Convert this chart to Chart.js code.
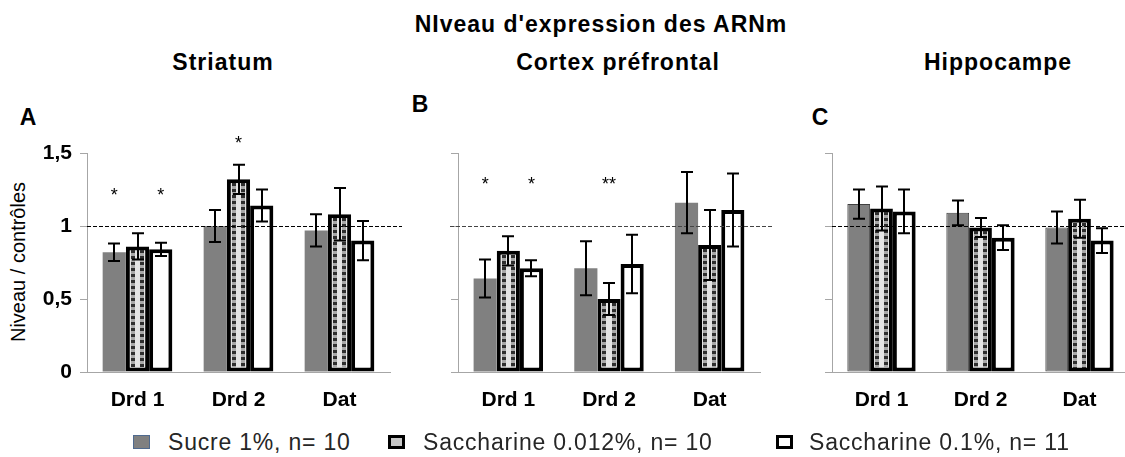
<!DOCTYPE html>
<html>
<head>
<meta charset="utf-8">
<script src="https://cdn.jsdelivr.net/npm/chart.js@4"></script>
<style>
  html, body { margin: 0; padding: 0; background: #fff; }
  body { position: relative; width: 1125px; height: 457px; overflow: hidden; font-family: "Liberation Sans", Arial, sans-serif; color: #000; }
  canvas { position: absolute; }
  .txt { position: absolute; white-space: nowrap; line-height: 1; }
  .bold { font-weight: bold; font-size: 23px; letter-spacing: 1px; }
  .center { transform: translate(-50%, -50%); }
  .legend { position: absolute; top: 442px; transform: translateY(-50%); font-size: 23px; letter-spacing: 0.8px; line-height: 1; color: #262626; white-space: nowrap; }
  .sw { position: absolute; box-sizing: border-box; width: 17px; height: 14px; top: 435px; }
</style>
</head>
<body>
<div class="txt bold center" style="left:601px; top:24px;">NIveau d'expression des ARNm</div>
<div class="txt bold center" style="left:223px; top:62px;">Striatum</div>
<div class="txt bold center" style="left:618px; top:62px;">Cortex préfrontal</div>
<div class="txt bold center" style="left:998px; top:62px;">Hippocampe</div>
<div class="txt bold center" style="left:28px; top:117px; letter-spacing:0;">A</div>
<div class="txt bold center" style="left:420px; top:104px; letter-spacing:0;">B</div>
<div class="txt bold center" style="left:820px; top:117px; letter-spacing:0;">C</div>
<div class="txt" style="left:18px; top:262px; font-size:20px; transform: translate(-50%, -50%) rotate(-90deg);">Niveau / contrôles</div>

<canvas id="chartA" width="404" height="300" style="left:0px; top:120px;"></canvas>
<canvas id="chartB" width="400" height="300" style="left:380px; top:120px;"></canvas>
<canvas id="chartC" width="380" height="300" style="left:760px; top:120px;"></canvas>

<div class="sw" style="left:133px; background:#808080; border:1px solid #4f6a8f;"></div>
<div class="legend" id="leg0" style="left:168px;"></div>
<div class="sw" style="left:388px; background:#c8c8c8; border:3px solid #000;"></div>
<div class="legend" id="leg1" style="left:423px;"></div>
<div class="sw" style="left:776px; background:#fff; border:3px solid #000;"></div>
<div class="legend" id="leg2" style="left:809px;"></div>

<script>
const categories = ['Drd 1', 'Drd 2', 'Dat'];
const seriesNames = ['Sucre 1%, n= 10', 'Saccharine 0.012%, n= 10', 'Saccharine 0.1%, n= 11'];
const yTicks = [0, 0.5, 1, 1.5];

// Striatum
const striatumSucre = [0.82, 1.00, 0.97];
const striatumSacc012 = [0.86, 1.32, 1.08];
const striatumSacc01 = [0.84, 1.14, 0.90];
const striatumSucreErr = [0.06, 0.11, 0.11];
const striatumSacc012Err = [0.09, 0.10, 0.18];
const striatumSacc01Err = [0.045, 0.11, 0.135];
// [serie, categorie, texte, hauteur]
const striatumStars = [[0, 0, '*', 1.23], [2, 0, '*', 1.23], [1, 1, '*', 1.59]];

// Cortex préfrontal
const cortexSucre = [0.64, 0.71, 1.16];
const cortexSacc012 = [0.83, 0.50, 0.87];
const cortexSacc01 = [0.71, 0.74, 1.11];
const cortexSucreErr = [0.13, 0.185, 0.21];
const cortexSacc012Err = [0.10, 0.11, 0.24];
const cortexSacc01Err = [0.055, 0.20, 0.25];
const cortexStars = [[0, 0, '*', 1.31], [2, 0, '*', 1.31], [1, 1, '**', 1.31]];

// Hippocampe
const hippoSucre = [1.15, 1.09, 0.99];
const hippoSacc012 = [1.12, 0.99, 1.05];
const hippoSacc01 = [1.10, 0.92, 0.90];
const hippoSucreErr = [0.10, 0.085, 0.11];
const hippoSacc012Err = [0.15, 0.065, 0.13];
const hippoSacc01Err = [0.15, 0.085, 0.085];
const hippoStars = [];

seriesNames.forEach((name, i) => {
  document.getElementById('leg' + i).textContent = name;
});

// dashed line at 1, stripes in the middle bars, error bars and asterisks
const extras = {
  id: 'extras',
  afterDatasetsDraw(chart, args, opts) {
    const ctx = chart.ctx;
    const y = chart.scales.y;
    const area = chart.chartArea;

    // stripes inside the saccharine 0.012% bars
    const mid = chart.getDatasetMeta(1);
    mid.data.forEach((bar) => {
      const bw = 4;
      const left = Math.round(bar.x - bar.width / 2 + bw);
      const right = Math.round(bar.x + bar.width / 2 - bw);
      const top = Math.round(bar.y + bw);
      const bottom = Math.round(bar.base - bw);
      const cols = [left + 1, right - 5];
      ctx.save();
      cols.forEach((cx) => {
        ctx.fillStyle = '#a8a8a8';
        ctx.fillRect(cx, top, 4, bottom - top);
        ctx.fillStyle = '#2e2e2e';
        for (let yy = top; yy < bottom; yy += 6) {
          ctx.fillRect(cx, yy, 4, Math.min(3, bottom - yy));
        }
      });
      ctx.restore();
    });

    // reference line at 1
    const y1 = y.getPixelForValue(1);
    ctx.save();
    ctx.strokeStyle = opts.lineColor;
    ctx.lineWidth = 1;
    ctx.setLineDash([4, 2]);
    ctx.beginPath();
    ctx.moveTo(area.left - opts.lineLeft, Math.round(y1) + 0.5);
    ctx.lineTo(area.right + opts.lineRight, Math.round(y1) + 0.5);
    ctx.stroke();
    ctx.restore();

    // error bars
    ctx.save();
    ctx.strokeStyle = '#000';
    ctx.lineWidth = 2;
    chart.data.datasets.forEach((ds, i) => {
      const meta = chart.getDatasetMeta(i);
      meta.data.forEach((bar, j) => {
        const v = ds.data[j];
        const e = ds.errors[j];
        const yt = y.getPixelForValue(v + e);
        const yb = y.getPixelForValue(v - e);
        const x = Math.round(bar.x);
        ctx.beginPath();
        ctx.moveTo(x, yt);
        ctx.lineTo(x, yb);
        ctx.moveTo(x - 6, yt);
        ctx.lineTo(x + 6, yt);
        ctx.moveTo(x - 6, yb);
        ctx.lineTo(x + 6, yb);
        ctx.stroke();
      });
    });
    ctx.restore();

    // asterisks
    ctx.save();
    ctx.fillStyle = '#000';
    ctx.font = '18px "Liberation Sans", Arial, sans-serif';
    ctx.textAlign = 'center';
    ctx.textBaseline = 'middle';
    opts.stars.forEach(([s, c, t, h]) => {
      const bar = chart.getDatasetMeta(s).data[c];
      ctx.fillText(t, bar.x, y.getPixelForValue(h) + 4);
    });
    ctx.restore();
  }
};

const makePanel = (id, sucre, sacc012, sacc01, errs, stars, cfg) => {
  const data = {
    labels: categories,
    datasets: [
      {
        label: seriesNames[0],
        data: sucre,
        errors: errs[0],
        backgroundColor: '#808080',
        borderColor: '#404040',
        borderWidth: cfg.grayBorder,
        borderSkipped: false
      },
      {
        label: seriesNames[1],
        data: sacc012,
        errors: errs[1],
        backgroundColor: '#e4e4e4',
        borderColor: '#000',
        borderWidth: 4,
        borderSkipped: false
      },
      {
        label: seriesNames[2],
        data: sacc01,
        errors: errs[2],
        backgroundColor: '#fff',
        borderColor: '#000',
        borderWidth: 4,
        borderSkipped: false
      }
    ]
  };

  return new Chart(document.getElementById(id), {
    type: 'bar',
    data: data,
    plugins: [extras],
    options: {
      responsive: false,
      animation: false,
      devicePixelRatio: 1,
      datasets: {
        bar: { categoryPercentage: 0.69, barPercentage: 1.0 }
      },
      layout: { padding: { top: 33, right: cfg.padRight, left: 0, bottom: 0 } },
      scales: {
        x: {
          grid: { display: false, drawTicks: false },
          border: { display: true, color: '#a6a6a6', width: 1 },
          ticks: {
            color: '#000',
            padding: 16,
            font: { family: '"Liberation Sans", Arial, sans-serif', size: 21, weight: 'bold' }
          },
          afterFit: (s) => { s.height = 48; }
        },
        y: {
          min: 0,
          max: 1.5,
          afterBuildTicks: (s) => { s.ticks = yTicks.map((v) => ({ value: v })); },
          grid: { drawOnChartArea: false, drawTicks: true, tickLength: 7, color: '#a6a6a6' },
          border: { display: true, color: '#a6a6a6', width: 1 },
          ticks: {
            display: cfg.showTicks,
            color: '#000',
            padding: 8,
            font: { family: '"Liberation Sans", Arial, sans-serif', size: 21, weight: 'bold' },
            callback: (v) => String(v).replace('.', ',')
          },
          afterFit: (s) => { s.width = cfg.axisWidth; }
        }
      },
      plugins: {
        legend: { display: false },
        tooltip: { enabled: false },
        extras: { stars: stars, lineColor: cfg.lineColor, lineLeft: cfg.lineLeft, lineRight: cfg.lineRight }
      }
    }
  });
};

makePanel('chartA', striatumSucre, striatumSacc012, striatumSacc01,
  [striatumSucreErr, striatumSacc012Err, striatumSacc01Err], striatumStars,
  { axisWidth: 87, padRight: 14, showTicks: true, grayBorder: 0, lineColor: '#000', lineLeft: 0, lineRight: 12 });

makePanel('chartB', cortexSucre, cortexSacc012, cortexSacc01,
  [cortexSucreErr, cortexSacc012Err, cortexSacc01Err], cortexStars,
  { axisWidth: 78, padRight: 20, showTicks: false, grayBorder: 0, lineColor: '#444', lineLeft: 8, lineRight: 13 });

makePanel('chartC', hippoSucre, hippoSacc012, hippoSacc01,
  [hippoSucreErr, hippoSacc012Err, hippoSacc01Err], hippoStars,
  { axisWidth: 72, padRight: 11, showTicks: false, grayBorder: 1, lineColor: '#000', lineLeft: 0, lineRight: 10 });
</script>
</body>
</html>
